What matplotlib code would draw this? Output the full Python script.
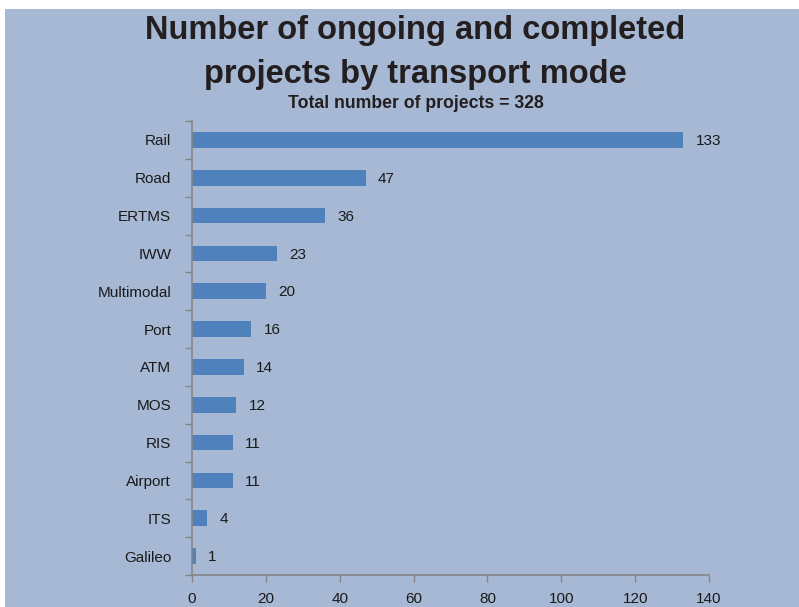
import matplotlib
matplotlib.use("Agg")
import matplotlib.pyplot as plt
from matplotlib import font_manager

# dados
modos = ['Rail', 'Road', 'ERTMS', 'IWW', 'Multimodal', 'Port', 'ATM', 'MOS',
         'RIS', 'Airport', 'ITS', 'Galileo']
projetos = [133, 47, 36, 23, 20, 16, 14, 12, 11, 11, 4, 1]
xticks = [0, 20, 40, 60, 80, 100, 120, 140]

fundo = '#a6b8d4'
cor_barra = '#4f81bd'
cor_eixo = '#868686'
cor_texto = '#1a1a1a'

nomes = {f.name for f in font_manager.fontManager.ttflist}
fonte_titulo = 'Liberation Sans Narrow' if 'Liberation Sans Narrow' in nomes else 'Liberation Sans'
fonte = 'Liberation Sans'

fig = plt.figure(figsize=(7.99, 6.07), dpi=100)
fig.patch.set_facecolor('white')

# painel de fundo (borda branca em cima e na esquerda)
bg = fig.add_axes([5 / 799, 0, 1, 1 - 9 / 607], zorder=-1)
bg.set_facecolor(fundo)
bg.set_xticks([])
bg.set_yticks([])
for s in bg.spines.values():
    s.set_visible(False)

ax = fig.add_axes([192 / 799, 1 - 575 / 607, (709 - 192) / 799, (575 - 121) / 607], zorder=1)
ax.set_facecolor('none')

y = list(range(len(modos)))
ax.barh(y, projetos, height=0.41, color=cor_barra)
for yi, v in zip(y, projetos):
    ax.text(v + 3.4, yi + 0.03, str(v), va='center', ha='left', fontsize=11,
            family=fonte, color=cor_texto)

ax.set_ylim(len(modos) - 0.5, -0.5)
ax.set_xlim(0, 140)
ax.set_xticks(xticks)
ax.set_xticklabels([str(t) for t in xticks], fontsize=11, family=fonte, color=cor_texto)
ax.set_yticks(y)
ax.set_yticklabels(modos, fontsize=11, family=fonte, color=cor_texto)
ax.set_yticks([i - 0.5 for i in range(len(modos) + 1)], minor=True)
ax.tick_params(axis='y', which='major', length=0, pad=15)
ax.tick_params(axis='y', which='minor', length=5, color=cor_eixo, width=1)
ax.tick_params(axis='x', length=5, color=cor_eixo, width=1, pad=7)

for s in ['top', 'right']:
    ax.spines[s].set_visible(False)
for s in ['left', 'bottom']:
    ax.spines[s].set_color(cor_eixo)
    ax.spines[s].set_linewidth(1.2)

fig.text(0.52, 1 - 31 / 607, 'Number of ongoing and completed', ha='center', va='center',
         fontsize=23.5, fontweight='bold', family=fonte_titulo, color='#231f20')
fig.text(0.52, 1 - 74 / 607, 'projects by transport mode', ha='center', va='center',
         fontsize=23.5, fontweight='bold', family=fonte_titulo, color='#231f20')
fig.text(0.521, 1 - 103 / 607, 'Total number of projects = 328', ha='center', va='center',
         fontsize=12.7, fontweight='bold', family=fonte_titulo, color='#231f20')

plt.savefig('out.png', dpi=100, facecolor=fig.get_facecolor())
